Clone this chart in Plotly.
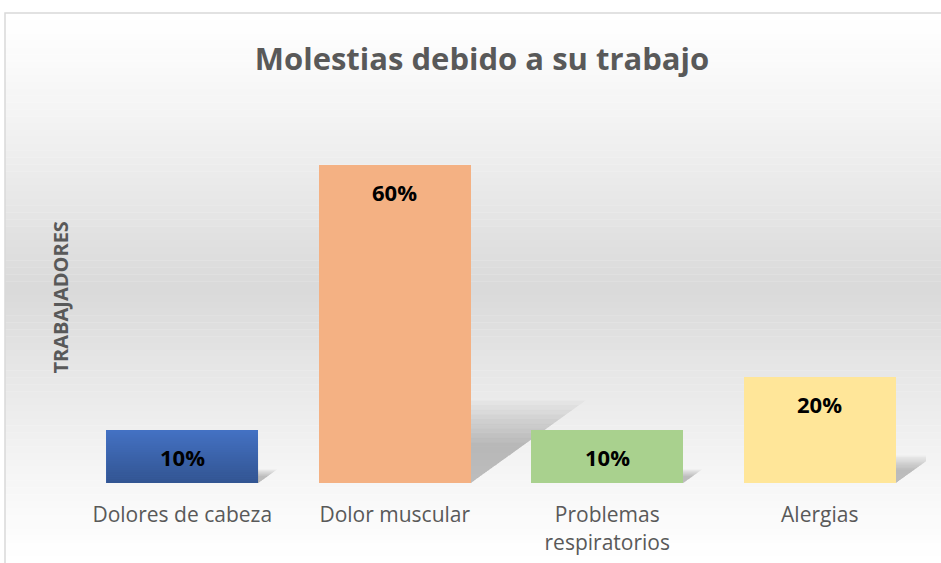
import plotly.graph_objects as go

categories = ["Dolores de cabeza", "Dolor muscular", "Problemas<br>respiratorios", "Alergias"]
values = [10, 60, 10, 20]
labels = ["10%", "60%", "10%", "20%"]
colors = ["#4472c4", "#f4b183", "#a9d18e", "#ffe699"]

W, H = 941, 563
L, R, T, B = 76, 15, 112, 80
pw, ph = W - L - R, H - T - B
xs = list(range(len(categories)))
bar_w = 0.715
hw = bar_w / 2

def px_to_paper_x(p):
    return (p - L) / pw

def px_to_paper_y(p):
    return (H - B - p) / ph

fig = go.Figure()
fig.add_trace(go.Bar(x=xs, y=values, width=bar_w, marker=dict(color=colors, line=dict(width=0)),
                     hoverinfo="skip"))

shapes = []
# background gradient + frame
top, bot = 13, 563
n = 80
for k in range(n):
    y0 = top + (bot - top) * k / n
    y1 = top + (bot - top) * (k + 1) / n
    t = (k + 0.5) / n
    g = 255 - 38 * (1 - abs(2 * t - 1)) ** 1.2
    g = int(round(g))
    shapes.append(dict(type="rect", xref="paper", yref="paper", layer="below",
                       x0=px_to_paper_x(5), x1=px_to_paper_x(W + 5),
                       y0=px_to_paper_y(y1) - 0.001, y1=px_to_paper_y(y0),
                       fillcolor=f"rgb({g},{g},{g})", line=dict(width=0)))
shapes.append(dict(type="rect", xref="paper", yref="paper", layer="below",
                   x0=px_to_paper_x(5), x1=px_to_paper_x(W + 5),
                   y0=px_to_paper_y(bot + 5), y1=px_to_paper_y(top),
                   fillcolor="rgba(0,0,0,0)", line=dict(color="#d9d9d9", width=1.5)))

# perspective shadows (derived from data), blurred by layering
for i, v in zip(xs, values):
    dx = 0.0085 * v
    dy = 0.245 * v
    x0, x1 = i - hw, i + hw
    m = 10
    for j in range(m):
        s = 1.06 - 0.06 * j
        path = (f"M {x0},0 L {x1},0 L {x1 + dx * s},{dy * s} "
                f"L {x0 + dx * s},{dy * s} Z")
        shapes.append(dict(type="path", xref="x", yref="y", layer="below", path=path,
                           fillcolor="#606060", opacity=0.045, line=dict(width=0)))

# vertical gradient on the first bar
nb = 24
v0 = values[0]
for k in range(nb):
    a = 0.26 * (1 - (k + 0.5) / nb)
    shapes.append(dict(type="rect", xref="x", yref="y", layer="above",
                       x0=xs[0] - hw, x1=xs[0] + hw,
                       y0=v0 * k / nb, y1=v0 * (k + 1) / nb,
                       fillcolor="black", opacity=a, line=dict(width=0)))

annotations = []
for i, v, lab in zip(xs, values, labels):
    annotations.append(dict(x=i, y=v, xref="x", yref="y", text=f"<b>{lab}</b>", showarrow=False,
                            yanchor="top", yshift=-10,
                            font=dict(family="Open Sans", size=22, color="#000000")))
annotations.append(dict(x=px_to_paper_x(60), y=0.5, xref="paper", yref="paper",
                        text="<b>TRABAJADORES</b>", textangle=-90, showarrow=False,
                        xanchor="center", yanchor="middle",
                        font=dict(family="Open Sans", size=20, color="#595959")))

fig.update_layout(
    width=W, height=H,
    margin=dict(l=L, r=R, t=T, b=B),
    paper_bgcolor="white", plot_bgcolor="rgba(0,0,0,0)",
    title=dict(text="<b>Molestias debido a su trabajo</b>", x=(482) / W, xanchor="center",
               y=1 - 59 / H, yanchor="middle",
               font=dict(family="Open Sans", size=31, color="#595959")),
    showlegend=False,
    shapes=shapes, annotations=annotations,
    xaxis=dict(range=[-0.5, 3.5], tickvals=xs, ticktext=categories, showgrid=False,
               zeroline=False, showline=False, ticks="outside", ticklen=13,
               tickcolor="rgba(0,0,0,0)", automargin=False,
               tickfont=dict(family="Open Sans", size=21, color="#595959")),
    yaxis=dict(range=[0, 70], showgrid=False, zeroline=False, showline=False,
               showticklabels=False, ticks="", automargin=False),
    bargap=0,
)

fig.write_html("out.html", config={"displayModeBar": False},
               post_script="document.body.style.margin='0px';")
